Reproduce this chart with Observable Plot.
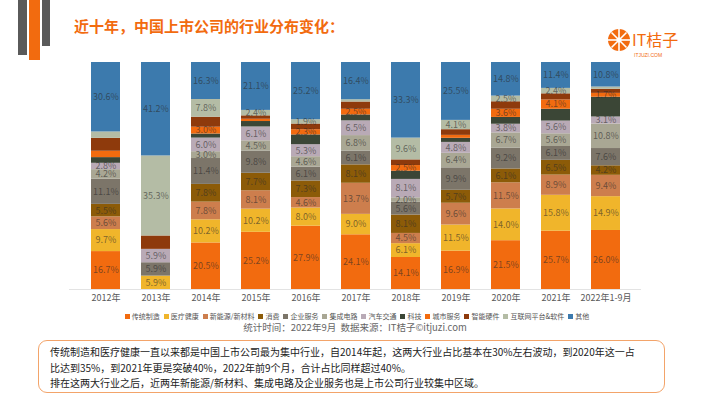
<!DOCTYPE html>
<html><head><meta charset="utf-8">
<script src="https://cdn.jsdelivr.net/npm/d3@7"></script>
<script src="https://cdn.jsdelivr.net/npm/@observablehq/plot@0.6"></script>
<style>
body{margin:0;background:#fff;font-family:"Noto Sans CJK SC","Noto Sans",sans-serif;}
#page{position:relative;width:710px;height:399px;overflow:hidden;background:#fff;}
.deco{position:absolute;top:0;}
#title{position:absolute;left:74px;top:16px;font-size:15px;font-weight:bold;color:#f26b0f;line-height:20px;white-space:nowrap;}
#logo{position:absolute;left:606px;top:26px;}
#chart{position:absolute;left:0;top:0;}
#legend{position:absolute;left:0;width:710px;top:311px;text-align:center;font-size:7px;color:#555;line-height:10px;white-space:nowrap;}
#legend span.sw{display:inline-block;width:5px;height:5px;margin:0 2px 0 4px;vertical-align:0px;}
#source{position:absolute;left:0;width:710px;top:321px;text-align:center;font-size:9.5px;color:#666;line-height:13px;white-space:nowrap;}
#note{position:absolute;left:38px;top:340px;width:627px;height:53px;border:1.5px solid #f3a46a;border-radius:9px;box-sizing:border-box;padding:3px 0 0 11px;font-size:10px;line-height:15.5px;color:#222;white-space:nowrap;}
</style></head><body>
<div id="page">
  <div class="deco" style="left:18px;width:9px;height:55px;background:#5a5a5a"></div>
  <div class="deco" style="left:29px;width:11px;height:60px;background:#f26b0f"></div>
  <div class="deco" style="left:42px;width:8px;height:46px;background:#5a5a5a"></div>
  <div id="title">近十年，中国上市公司的行业分布变化：</div>
  <div id="logo">
    <svg width="92" height="36">
      <circle cx="13" cy="14" r="11" fill="#f26b0f"/>
      <g stroke="#fff" stroke-width="1.6">
        <line x1="13" y1="3" x2="13" y2="25"/><line x1="2" y1="14" x2="24" y2="14"/>
        <line x1="5.5" y1="6.5" x2="20.5" y2="21.5"/><line x1="20.5" y1="6.5" x2="5.5" y2="21.5"/>
      </g>
      <circle cx="13" cy="14" r="2.5" fill="#fff"/>
      <text x="26" y="20" font-size="16" fill="#f26b0f" font-family="Noto Sans CJK SC">IT桔子</text>
      <text x="28" y="31" font-size="5" fill="#f26b0f" font-family="Liberation Sans">ITJUZI.COM</text>
    </svg>
  </div>
  <div id="chart"></div>
  <div id="legend"></div>
  <div id="source">统计时间：2022年9月&nbsp;&nbsp;数据来源：IT桔子©itjuzi.com</div>
  <div id="note">传统制造和医疗健康一直以来都是中国上市公司最为集中行业，自2014年起，这两大行业占比基本在30%左右波动，到2020年这一占<br>比达到35%，到2021年更是突破40%，2022年前9个月，合计占比同样超过40%。<br>排在这两大行业之后，近两年新能源/新材料、集成电路及企业服务也是上市公司行业较集中区域。</div>
</div>
<script>
const years = ["2012年","2013年","2014年","2015年","2016年","2017年","2018年","2019年","2020年","2021年","2022年1-9月"];
const categories = ["传统制造","医疗健康","新能源/新材料","消费","企业服务","集成电路","汽车交通","科技","城市服务","智能硬件","互联网平台&软件","其他"];
const colors = ["#f26b0f","#f0b52b","#cd7e4d","#8c5b08","#7c7569","#a9a794","#b9aab6","#3b4636","#f26b0f","#8e3a0c","#b4bca5","#3c7aad"];

const manufacturing = [16.7, 0, 20.5, 25.2, 27.9, 24.1, 14.1, 16.9, 21.5, 25.7, 26.0];
const healthcare    = [9.7, 5.9, 10.2, 10.2, 8.0, 9.0, 6.1, 11.5, 14.0, 15.8, 14.9];
const newEnergy     = [5.6, 0, 7.8, 8.1, 4.6, 13.7, 4.5, 9.6, 11.5, 8.9, 9.4];
const consumer      = [5.5, 0, 7.8, 7.7, 7.3, 8.1, 8.1, 5.7, 6.1, 6.5, 4.2];
const enterprise    = [11.1, 5.9, 11.4, 9.8, 6.1, 6.1, 5.6, 9.9, 9.2, 6.1, 7.6];
const chips         = [4.2, 0, 3.0, 4.5, 4.6, 6.8, 2.0, 6.4, 6.7, 5.6, 10.8];
const autos         = [2.8, 5.9, 6.0, 6.1, 5.3, 6.5, 8.1, 4.8, 3.8, 5.6, 3.1];
const tech          = [2.5, 0, 1.8, 2.4, 4.3, 2.6, 3.6, 1.8, 3.0, 5.2, 8.7];
const cityServices  = [2.8, 0, 3.0, 1.0, 2.3, 2.5, 2.5, 1.3, 3.6, 4.1, 1.7];
const hardware      = [5.7, 5.9, 4.4, 1.5, 2.5, 3.2, 2.5, 2.5, 3.3, 2.7, 1.8];
const internet      = [2.8, 35.3, 7.8, 2.4, 1.9, 1.0, 9.6, 4.1, 2.5, 2.4, 1.0];
const other         = [30.6, 41.2, 16.3, 21.1, 25.2, 16.4, 33.3, 25.5, 14.8, 11.4, 10.8];

const series = [manufacturing, healthcare, newEnergy, consumer, enterprise, chips, autos, tech, cityServices, hardware, internet, other];
// categories whose segments carry no value label in the reference
const unlabeledCategories = ["科技","智能硬件"];
const unlabeledCells = [["2012年","城市服务"],["2012年","互联网平台&软件"]];

const data = [];
years.forEach((yr, i) => categories.forEach((c, j) => data.push({year: yr, cat: c, value: series[j][i]})));

const isLabeled = d => d.value >= 1.5 && !unlabeledCategories.includes(d.cat) &&
  !unlabeledCells.some(([y, c]) => y === d.year && c === d.cat);

const stackOpts = {x: "year", y: "value", z: "cat", order: categories, offset: "normalize"};

const chart = Plot.plot({
  width: 710,
  height: 308,
  marginTop: 62,
  marginBottom: 19,
  marginLeft: 69,
  marginRight: 69,
  style: {fontFamily: "'Noto Sans CJK SC', sans-serif", background: "transparent"},
  x: {domain: years, padding: 0.42, label: null},
  y: {domain: [0, 1], axis: null},
  color: {domain: categories, range: colors},
  marks: [
    Plot.barY(data, Plot.stackY({...stackOpts, fill: "cat"})),
    Plot.ruleY([0], {stroke: "#e3e3e3", strokeWidth: 1}),
    Plot.text(data, Plot.stackY({...stackOpts,
      text: d => isLabeled(d) ? d.value.toFixed(1) + "%" : "", fill: "#2a2a2a", fillOpacity: 0.6, fontSize: 9})),
    Plot.axisX({tickSize: 0, tickPadding: 5, fontSize: 9, color: "#595959", label: null})
  ]
});
document.getElementById("chart").appendChild(chart);

const legend = document.getElementById("legend");
categories.forEach((c, j) => {
  const sw = document.createElement("span");
  sw.className = "sw";
  sw.style.background = colors[j];
  legend.appendChild(sw);
  legend.appendChild(document.createTextNode(c));
});
</script>
</body></html>
